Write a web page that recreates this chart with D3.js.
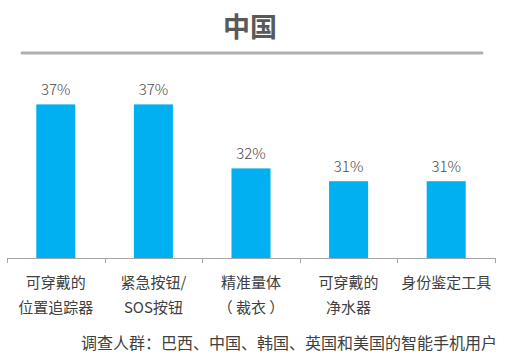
<!DOCTYPE html>
<meta charset="utf-8">
<style>
body { margin: 0; background: #fff; }
text { font-family: "Noto Sans CJK SC", "Noto Sans", sans-serif; }
.bar { fill: #00b0f0; }
.axis path, .axis line { stroke: #a6a6a6; }
</style>
<body>
<script src="https://d3js.org/d3.v7.min.js"></script>
<script>
// data
var categories = [["可穿戴的", "位置追踪器"], ["紧急按钮/", "SOS按钮"], ["精准量体", "（ 裁衣 ）"], ["可穿戴的", "净水器"], ["身份鉴定工具"]];
var values = [37, 37, 32, 31, 31];
var title = "中国";
var note = "调查人群：巴西、中国、韩国、英国和美国的智能手机用户";

var width = 510, height = 362;
var svg = d3.select("body").append("svg")
    .attr("width", width)
    .attr("height", height);

// title + rule under it
svg.append("text")
    .attr("x", 250).attr("y", 37)
    .attr("text-anchor", "middle")
    .style("font-size", "27px").style("font-weight", "bold")
    .attr("fill", "#595959")
    .text(title);
svg.append("line")
    .attr("x1", 22).attr("x2", 482).attr("y1", 53).attr("y2", 53)
    .attr("stroke", "#afafaf").attr("stroke-width", 3).attr("stroke-linecap", "round");

var x = d3.scaleBand()
    .domain(d3.range(values.length))
    .range([7, 495])
    .paddingInner(0.6).paddingOuter(0.3);
var y = d3.scaleLinear()
    .domain([25, 40])
    .range([258, 66]);

var g = svg.append("g");

g.selectAll(".bar")
    .data(values)
    .enter().append("rect")
    .attr("class", "bar")
    .attr("x", function(d, i) { return x(i); })
    .attr("y", function(d) { return y(d); })
    .attr("width", x.bandwidth())
    .attr("height", function(d) { return y(25) - y(d); });

g.selectAll(".val")
    .data(values)
    .enter().append("text")
    .attr("class", "val")
    .attr("x", function(d, i) { return x(i) + x.bandwidth() / 2; })
    .attr("y", function(d) { return y(d) - 9; })
    .attr("text-anchor", "middle")
    .style("font-size", "15px").style("font-weight", "300")
    .attr("fill", "#4a4a4a")
    .text(function(d) { return d + "%"; });

// baseline with ticks between categories
var step = (495 - 7) / values.length;
var tickPos = d3.range(values.length + 1).map(function(i) { return 7 + i * step; });
var axis = svg.append("g").attr("class", "axis");
axis.append("line")
    .attr("x1", 7).attr("x2", 495).attr("y1", 258.5).attr("y2", 258.5);
axis.selectAll(".tk")
    .data(tickPos)
    .enter().append("line")
    .attr("class", "tk")
    .attr("x1", function(d) { return Math.round(d) + 0.5; })
    .attr("x2", function(d) { return Math.round(d) + 0.5; })
    .attr("y1", 258).attr("y2", 263);

// category labels
var cat = svg.selectAll(".cat")
    .data(categories)
    .enter().append("text")
    .attr("class", "cat")
    .attr("text-anchor", "middle")
    .attr("fill", "#404040")
    .style("font-size", "15px")
    .attr("x", function(d, i) { return x(i) + x.bandwidth() / 2; })
    .attr("y", 288);
cat.selectAll("tspan")
    .data(function(d) { return d; })
    .enter().append("tspan")
    .attr("x", function() { return d3.select(this.parentNode).attr("x"); })
    .attr("dy", function(d, i) { return i == 0 ? 0 : 25; })
    .text(function(d) { return d; });

svg.append("text")
    .attr("x", 497).attr("y", 349)
    .attr("text-anchor", "end")
    .attr("fill", "#404040")
    .style("font-size", "16px")
    .text(note);
</script>
</body>
